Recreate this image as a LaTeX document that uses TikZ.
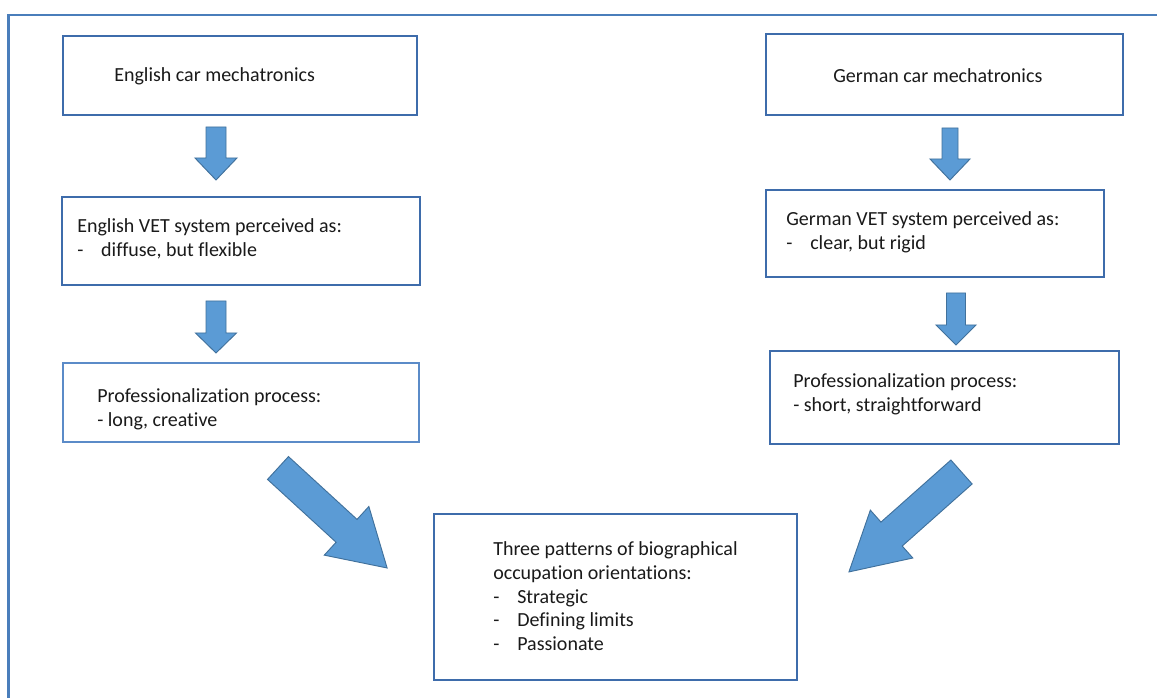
\documentclass[tikz,border=0pt]{standalone}
\usepackage{fontspec}
\setmainfont{Carlito}[Ligatures=NoCommon]
\usetikzlibrary{fit}
\definecolor{framecol}{HTML}{4A7EBB}
\definecolor{boxcol}{HTML}{3E6CAB}
\definecolor{boxlight}{HTML}{5B8BC8}
\definecolor{arrowfill}{HTML}{5B9BD5}
\definecolor{arrowedge}{HTML}{41719C}
\definecolor{txt}{HTML}{1A1A1A}
\newcommand{\itemdash}{\makebox[18pt][l]{-}}
\newcommand{\boxtext}[1]{\parbox[t]{300pt}{\raggedright\fontsize{15}{17.8}\selectfont #1}}
\tikzset{
  box/.style={draw=boxcol, line width=1.2pt, inner sep=0pt},
  lightbox/.style={draw=boxlight, line width=0.9pt, inner sep=0pt},
  label/.style={anchor=base west, inner sep=0pt, text=txt},
  blockarrow/.style={fill=arrowfill, draw=arrowedge, line width=0.7pt, line join=miter},
  pics/barrow/.style n args={4}{code={
    \filldraw[blockarrow] (0,-#2/2) -- (#1-#4,-#2/2) -- (#1-#4,-#3/2) -- (#1,0)
      -- (#1-#4,#3/2) -- (#1-#4,#2/2) -- (0,#2/2) -- cycle;
  }}
}
\begin{document}
\begin{tikzpicture}[x=0.75pt,y=-0.75pt]
\useasboundingbox (0,0) rectangle (1157,698);
\fill[white] (0,0) rectangle (1157,698);

% outer frame: left and top edges only
\coordinate (fbl) at (8.7,698);
\coordinate (ftl) at (8.7,15);
\coordinate (ftr) at (1157,15);
\draw[framecol, line width=2pt] (fbl) -- (ftl) -- (ftr);

% boxes
\node[box, fit={(63,36) (417,115)}] (eng) {};
\node[box, fit={(766,34) (1123,115)}] (ger) {};
\node[box, fit={(62,197) (420,285)}] (engvet) {};
\node[box, fit={(766,190) (1104,277)}] (gervet) {};
\node[lightbox, fit={(63,363) (419,442)}] (engpro) {};
\node[box, fit={(770,351) (1119,444)}] (gerpro) {};
\node[box, fit={(434,514) (797,680)}] (res) {};

% texts
\node[label] (t-eng) at (114,82) {\boxtext{English car mechatronics}};
\node[label] (t-ger) at (833,82.5) {\boxtext{German car mechatronics}};
\node[label] (t-engvet) at (77,232.7) {\boxtext{English VET system perceived as:\\\itemdash diffuse, but flexible}};
\node[label] (t-gervet) at (786,226) {\boxtext{German VET system perceived as:\\\itemdash clear, but rigid}};
\node[label] (t-engpro) at (97,402.7) {\boxtext{Professionalization process:\\- long, creative}};
\node[label] (t-gerpro) at (793,387.3) {\boxtext{Professionalization process:\\- short, straightforward}};
\node[label] (t-res) at (493,555.7) {\boxtext{Three patterns of biographical\\occupation orientations:\\\itemdash Strategic\\\itemdash Defining limits\\\itemdash Passionate}};

% block arrows
\coordinate (a-eng) at (216,127);
\coordinate (a-ger) at (950,128);
\coordinate (a-engvet) at (216,301);
\coordinate (a-gervet) at (956,293);
\coordinate (a-engpro) at (278,468);
\coordinate (a-gerpro) at (961.5,472);
\pic[rotate=-90] at (a-eng) {barrow={53}{20}{42}{22}};
\pic[rotate=-90] at (a-ger) {barrow={52}{16}{40}{21}};
\pic[rotate=-90] at (a-engvet) {barrow={52}{20}{41}{20}};
\pic[rotate=-90] at (a-gervet) {barrow={52}{19}{40}{20}};
\pic[rotate=-42.5] at (a-engpro) {barrow={148}{31}{66}{55}};
\pic[rotate=-138.4] at (a-gerpro) {barrow={150.5}{32}{64}{57}};
\end{tikzpicture}
\end{document}
